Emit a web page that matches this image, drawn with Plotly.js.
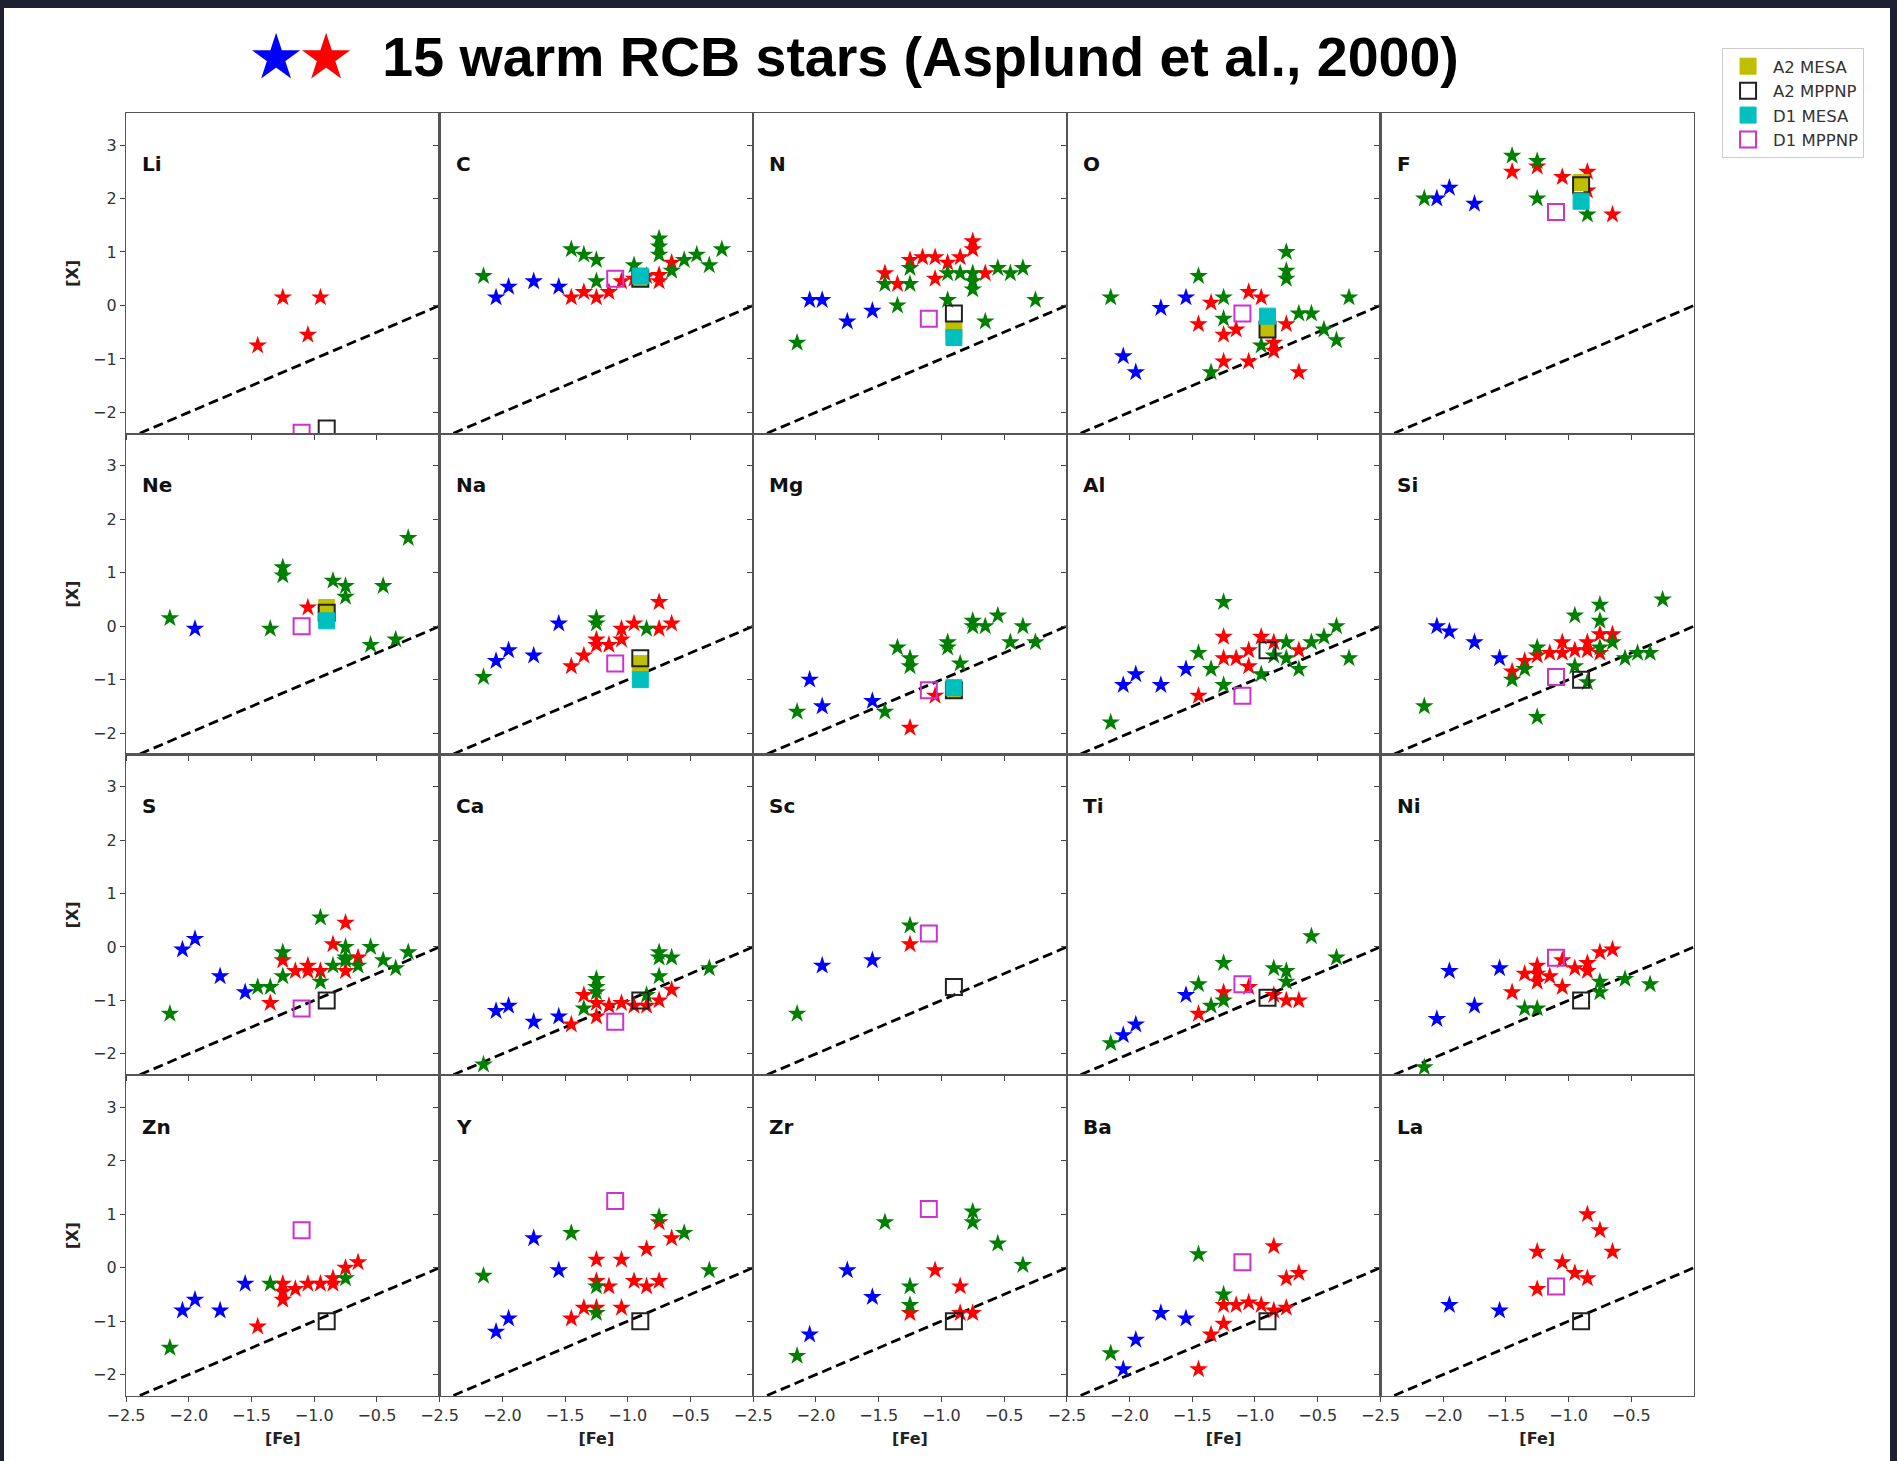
<!DOCTYPE html>
<html><head><meta charset="utf-8">
<script src="https://cdn.plot.ly/plotly-3.0.1.min.js"></script>
<style>
html,body{margin:0;padding:0;background:#1f2031;width:1897px;height:1461px;overflow:hidden}
#chart{position:absolute;left:4px;top:8px;width:1886px;height:1453px;background:#fff}
</style></head><body><div id="chart"></div>
<script>
const elements = ['Li','C','N','O','F','Ne','Na','Mg','Al','Si','S','Ca','Sc','Ti','Ni','Zn','Y','Zr','Ba','La'];
const feTicks = [-2.5, -2.0, -1.5, -1.0, -0.5];
const xTicks = [-2, -1, 0, 1, 2, 3];
const refLine = [-2.5, 0];

// [Fe], [X] pairs per panel (order of elements)
const blueStars = [
  [],
  [[-2.05,0.15],[-1.95,0.35],[-1.75,0.45],[-1.55,0.35]],
  [[-2.05,0.1],[-1.95,0.1],[-1.75,-0.3],[-1.55,-0.1]],
  [[-2.05,-0.95],[-1.95,-1.25],[-1.75,-0.05],[-1.55,0.15]],
  [[-2.05,2.0],[-1.95,2.2],[-1.75,1.9]],
  [[-1.95,-0.05]],
  [[-2.05,-0.65],[-1.95,-0.45],[-1.75,-0.55],[-1.55,0.05]],
  [[-2.05,-1.0],[-1.95,-1.5],[-1.55,-1.4]],
  [[-2.05,-1.1],[-1.95,-0.9],[-1.75,-1.1],[-1.55,-0.8]],
  [[-2.05,0.0],[-1.95,-0.1],[-1.75,-0.3],[-1.55,-0.6]],
  [[-2.05,-0.05],[-1.95,0.15],[-1.75,-0.55],[-1.55,-0.85]],
  [[-2.05,-1.2],[-1.95,-1.1],[-1.75,-1.4],[-1.55,-1.3]],
  [[-1.95,-0.35],[-1.55,-0.25]],
  [[-2.05,-1.65],[-1.95,-1.45],[-1.55,-0.9]],
  [[-2.05,-1.35],[-1.95,-0.45],[-1.75,-1.1],[-1.55,-0.4]],
  [[-2.05,-0.8],[-1.95,-0.6],[-1.75,-0.8],[-1.55,-0.3]],
  [[-2.05,-1.2],[-1.95,-0.95],[-1.75,0.55],[-1.55,-0.05]],
  [[-2.05,-1.25],[-1.75,-0.05],[-1.55,-0.55]],
  [[-2.05,-1.9],[-1.95,-1.35],[-1.75,-0.85],[-1.55,-0.95]],
  [[-1.95,-0.7],[-1.55,-0.8]]
];
const redStars = [
  [[-1.25,0.15],[-0.95,0.15],[-1.05,-0.55],[-1.45,-0.75]],
  [[-1.45,0.15],[-1.35,0.25],[-1.25,0.15],[-1.15,0.25],[-1.05,0.45],[-0.95,0.5],[-0.85,0.55],[-0.75,0.45],[-0.75,0.57],[-0.65,0.8]],
  [[-1.45,0.6],[-1.35,0.4],[-1.25,0.85],[-1.15,0.9],[-1.05,0.9],[-1.05,0.5],[-0.95,0.8],[-0.85,0.9],[-0.75,1.05],[-0.75,1.2],[-0.65,0.6]],
  [[-1.45,-0.35],[-1.35,0.05],[-1.25,-0.55],[-1.15,-0.45],[-1.25,-1.05],[-1.05,0.25],[-1.05,-1.05],[-0.95,0.15],[-0.85,-0.7],[-0.85,-0.85],[-0.75,-0.35],[-0.65,-1.25]],
  [[-1.45,2.5],[-1.25,2.6],[-1.05,2.4],[-0.85,2.5],[-0.85,2.15],[-0.65,1.7]],
  [[-1.05,0.35]],
  [[-1.45,-0.75],[-1.35,-0.55],[-1.25,-0.25],[-1.25,-0.35],[-1.15,-0.35],[-1.05,-0.05],[-1.05,-0.25],[-0.95,0.05],[-0.75,0.45],[-0.75,-0.05],[-0.65,0.05]],
  [[-1.25,-1.9],[-1.05,-1.3]],
  [[-1.45,-1.3],[-1.25,-0.2],[-1.25,-0.6],[-1.15,-0.6],[-1.05,-0.45],[-1.05,-0.75],[-0.95,-0.2],[-0.85,-0.3],[-0.65,-0.45]],
  [[-1.45,-0.85],[-1.35,-0.65],[-1.25,-0.55],[-1.15,-0.5],[-1.05,-0.3],[-1.05,-0.5],[-0.95,-0.45],[-0.85,-0.3],[-0.85,-0.45],[-0.75,-0.15],[-0.65,-0.15],[-0.75,-0.5]],
  [[-1.35,-1.05],[-1.25,-0.25],[-1.15,-0.45],[-1.05,-0.35],[-1.05,-0.45],[-0.95,-0.45],[-0.85,0.05],[-0.75,0.45],[-0.75,-0.45],[-0.65,-0.2]],
  [[-1.45,-1.45],[-1.35,-0.9],[-1.25,-1.05],[-1.25,-1.3],[-1.15,-1.1],[-1.05,-1.05],[-0.95,-1.1],[-0.85,-1.1],[-0.75,-1.0],[-0.65,-0.8]],
  [[-1.25,0.05]],
  [[-1.45,-1.25],[-1.25,-0.85],[-1.05,-0.75],[-0.85,-0.9],[-0.75,-1.0],[-0.65,-1.0]],
  [[-1.45,-0.85],[-1.35,-0.5],[-1.25,-0.35],[-1.25,-0.5],[-1.25,-0.65],[-1.15,-0.55],[-1.05,-0.25],[-1.05,-0.75],[-0.95,-0.4],[-0.85,-0.3],[-0.85,-0.45],[-0.75,-0.1],[-0.65,-0.05]],
  [[-1.45,-1.1],[-1.25,-0.3],[-1.25,-0.45],[-1.25,-0.6],[-1.15,-0.4],[-1.05,-0.3],[-0.95,-0.3],[-0.85,-0.2],[-0.85,-0.3],[-0.75,0.0],[-0.65,0.1]],
  [[-1.45,-0.95],[-1.35,-0.75],[-1.25,0.15],[-1.25,-0.25],[-1.25,-0.75],[-1.15,-0.35],[-1.05,0.15],[-1.05,-0.75],[-0.95,-0.25],[-0.85,0.35],[-0.85,-0.35],[-0.75,-0.25],[-0.75,0.85],[-0.65,0.55]],
  [[-1.25,-0.85],[-1.05,-0.05],[-0.85,-0.35],[-0.85,-0.85],[-0.75,-0.85]],
  [[-1.45,-1.9],[-1.35,-1.25],[-1.25,-0.7],[-1.25,-1.05],[-1.15,-0.7],[-1.05,-0.65],[-0.95,-0.7],[-0.85,0.4],[-0.85,-0.8],[-0.75,-0.2],[-0.75,-0.75],[-0.65,-0.1]],
  [[-1.25,0.3],[-1.25,-0.4],[-1.05,0.1],[-0.95,-0.1],[-0.85,1.0],[-0.85,-0.2],[-0.75,0.7],[-0.65,0.3]]
];
const greenStars = [
  [],
  [[-2.15,0.55],[-1.45,1.05],[-1.35,0.95],[-1.25,0.85],[-1.25,0.45],[-0.95,0.75],[-0.75,1.25],[-0.75,1.1],[-0.75,0.95],[-0.65,0.65],[-0.55,0.85],[-0.45,0.95],[-0.35,0.75],[-0.25,1.05]],
  [[-2.15,-0.7],[-1.45,0.4],[-1.35,0.0],[-1.25,0.7],[-1.25,0.4],[-0.95,0.6],[-0.95,0.1],[-0.85,0.6],[-0.75,0.6],[-0.75,0.45],[-0.75,0.3],[-0.65,-0.3],[-0.55,0.7],[-0.45,0.6],[-0.35,0.7],[-0.25,0.1]],
  [[-2.15,0.15],[-1.45,0.55],[-1.35,-1.25],[-1.25,0.15],[-1.25,-0.25],[-0.95,-0.75],[-0.75,1.0],[-0.75,0.65],[-0.75,0.5],[-0.65,-0.15],[-0.55,-0.15],[-0.45,-0.45],[-0.35,-0.65],[-0.25,0.15]],
  [[-2.15,2.0],[-1.45,2.8],[-1.25,2.7],[-1.25,2.0],[-0.85,1.7]],
  [[-2.15,0.15],[-1.35,-0.05],[-1.25,1.1],[-1.25,0.95],[-0.85,0.85],[-0.75,0.75],[-0.75,0.55],[-0.55,-0.35],[-0.45,0.75],[-0.35,-0.25],[-0.25,1.65]],
  [[-2.15,-0.95],[-1.25,0.15],[-1.25,0.05],[-0.85,-0.05]],
  [[-2.15,-1.6],[-1.45,-1.6],[-1.35,-0.4],[-1.25,-0.6],[-1.25,-0.75],[-0.95,-0.3],[-0.95,-0.4],[-0.85,-0.7],[-0.75,0.1],[-0.75,0.0],[-0.65,0.0],[-0.55,0.2],[-0.45,-0.3],[-0.35,0.0],[-0.25,-0.3]],
  [[-2.15,-1.8],[-1.45,-0.5],[-1.35,-0.8],[-1.25,0.45],[-1.25,-1.1],[-0.95,-0.9],[-0.85,-0.55],[-0.75,-0.3],[-0.75,-0.6],[-0.65,-0.8],[-0.55,-0.3],[-0.45,-0.2],[-0.35,0.0],[-0.25,-0.6]],
  [[-2.15,-1.5],[-1.45,-1.0],[-1.35,-0.8],[-1.25,-0.4],[-1.25,-1.7],[-0.95,0.2],[-0.95,-0.75],[-0.85,-1.05],[-0.75,0.4],[-0.75,0.1],[-0.75,-0.4],[-0.65,-0.3],[-0.55,-0.6],[-0.45,-0.5],[-0.35,-0.5],[-0.25,0.5]],
  [[-2.15,-1.25],[-1.45,-0.75],[-1.35,-0.75],[-1.25,-0.1],[-1.25,-0.55],[-0.95,0.55],[-0.95,-0.65],[-0.85,-0.35],[-0.75,0.0],[-0.75,-0.2],[-0.75,-0.25],[-0.65,-0.35],[-0.55,0.0],[-0.45,-0.25],[-0.35,-0.4],[-0.25,-0.1]],
  [[-2.15,-2.2],[-1.35,-1.15],[-1.25,-0.6],[-1.25,-0.75],[-1.25,-0.85],[-0.85,-0.9],[-0.75,-0.1],[-0.75,-0.2],[-0.75,-0.55],[-0.65,-0.2],[-0.35,-0.4]],
  [[-2.15,-1.25],[-1.25,0.4]],
  [[-2.15,-1.8],[-1.45,-0.7],[-1.35,-1.1],[-1.25,-0.3],[-1.25,-1.0],[-0.85,-0.4],[-0.75,-0.45],[-0.75,-0.65],[-0.55,0.2],[-0.35,-0.2]],
  [[-2.15,-2.25],[-1.35,-1.15],[-1.25,-1.15],[-0.75,-0.65],[-0.75,-0.85],[-0.55,-0.6],[-0.35,-0.7]],
  [[-2.15,-1.5],[-1.35,-0.3],[-0.75,-0.2]],
  [[-2.15,-0.15],[-1.45,0.65],[-1.25,-0.35],[-1.25,-0.85],[-0.75,0.95],[-0.55,0.65],[-0.35,-0.05]],
  [[-2.15,-1.65],[-1.45,0.85],[-1.25,-0.35],[-1.25,-0.7],[-0.75,1.05],[-0.75,0.85],[-0.55,0.45],[-0.35,0.05]],
  [[-2.15,-1.6],[-1.45,0.25],[-1.25,-0.5]],
  []
];
// model predictions per panel ([Fe], [X]) or null
const a2Mesa = [null,[-0.9,0.5],[-0.9,-0.45],[-0.9,-0.45],[-0.9,2.3],[-0.9,0.35],[-0.9,-0.7],[-0.9,-1.2],null,null,null,null,null,null,null,null,null,null,null,null];
const a2Mppnp = [[-0.9,-2.3],[-0.9,0.5],[-0.9,-0.15],[-0.9,-0.45],[-0.9,2.25],[-0.9,0.25],[-0.9,-0.6],[-0.9,-1.2],[-0.9,-0.45],[-0.9,-1.0],[-0.9,-1.0],[-0.9,-1.0],[-0.9,-0.75],[-0.9,-0.95],[-0.9,-1.0],[-0.9,-1.0],[-0.9,-1.0],[-0.9,-1.0],[-0.9,-1.0],[-0.9,-1.0]];
const d1Mesa = [null,[-0.9,0.55],[-0.9,-0.6],[-0.9,-0.2],[-0.9,1.95],[-0.9,0.1],[-0.9,-1.0],[-0.9,-1.15],null,null,null,null,null,null,null,null,null,null,null,null];
const d1Mppnp = [[-1.1,-2.38],[-1.1,0.5],[-1.1,-0.25],[-1.1,-0.15],[-1.1,1.75],[-1.1,0.0],[-1.1,-0.7],[-1.1,-1.2],[-1.1,-1.3],[-1.1,-0.95],[-1.1,-1.15],[-1.1,-1.4],[-1.1,0.25],[-1.1,-0.7],[-1.1,-0.2],[-1.1,0.7],[-1.1,1.25],[-1.1,1.1],[-1.1,0.1],[-1.1,-0.35]];

const starSeries = [
  {pts: blueStars, color: '#0000ff'},
  {pts: redStars, color: '#ff0000'},
  {pts: greenStars, color: '#008000'}
];
const squareSeries = [
  {pts: a2Mesa, name: 'A2 MESA', symbol: 'square', color: '#bfbf00', rank: 1},
  {pts: a2Mppnp, name: 'A2 MPPNP', symbol: 'square-open', color: '#222222', rank: 2},
  {pts: d1Mesa, name: 'D1 MESA', symbol: 'square', color: '#00bfbf', rank: 3},
  {pts: d1Mppnp, name: 'D1 MPPNP', symbol: 'square-open', color: '#cc33cc', rank: 4}
];

const traces = [];
const annotations = [];
const layout = {
  width: 1886, height: 1453,
  margin: {l: 122, r: 196, t: 105, b: 65},
  paper_bgcolor: '#ffffff', plot_bgcolor: '#ffffff',
  font: {family: 'DejaVu Sans, sans-serif', color: '#333333', size: 16},
  showlegend: true,
  hovermode: false,
  title: {
    text: '<span style="color:#0000ff">★</span><span style="color:#ff0000">★</span>\u00a0\u00a015 warm RCB stars (Asplund et al., 2000)',
    font: {family: 'Liberation Sans, Arial, sans-serif', size: 55.5, weight: 'bold', color: '#000000'},
    x: 0.465, xref: 'paper', xanchor: 'center',
    y: 0.9663, yref: 'container', yanchor: 'middle'
  },
  legend: {
    x: 1.0179, y: 1.0507, xanchor: 'left', yanchor: 'top',
    bgcolor: '#ffffff', bordercolor: '#cccccc', borderwidth: 1,
    font: {family: 'DejaVu Sans, sans-serif', size: 16.5, color: '#333333'},
    itemwidth: 40, tracegroupgap: 0, traceorder: 'grouped'
  },
  annotations: annotations
};

elements.forEach((el, i) => {
  const row = Math.floor(i / 5), col = i % 5;
  const n = i === 0 ? '' : String(i + 1);
  const xa = 'x' + n, ya = 'y' + n;
  const axCommon = {
    showline: true, mirror: true, linecolor: '#555555', linewidth: 1.2,
    ticks: 'outside', ticklen: 5, tickwidth: 1, tickcolor: '#444444',
    showgrid: false, zeroline: false, fixedrange: true,
    tickfont: {family: 'DejaVu Sans, sans-serif', size: 16, color: '#333333'}
  };
  layout['xaxis' + n] = Object.assign({}, axCommon, {
    domain: [col / 5, (col + 1) / 5], range: [-2.5, 0], anchor: ya,
    tickmode: 'array', tickvals: feTicks, tickformat: '.1f',
    showticklabels: row === 3,
    title: row === 3 ? {text: '[Fe]', standoff: 8, font: {family: 'DejaVu Sans, sans-serif', size: 16, weight: 'bold', color: '#222222'}} : {text: ''}
  });
  layout['yaxis' + n] = Object.assign({}, axCommon, {
    domain: [1 - (row + 1) / 4, 1 - row / 4], range: [-2.4, 3.6], anchor: xa,
    tickmode: 'array', tickvals: xTicks,
    showticklabels: col === 0,
    title: col === 0 ? {text: '[X]', standoff: 10, font: {family: 'DejaVu Sans, sans-serif', size: 16, weight: 'bold', color: '#222222'}} : {text: ''}
  });

  traces.push({
    type: 'scatter', mode: 'lines', x: refLine, y: refLine, xaxis: xa, yaxis: ya,
    line: {color: '#000000', width: 2.8, dash: '10px,5px'}, showlegend: false, hoverinfo: 'skip'
  });
  starSeries.forEach(s => {
    const p = s.pts[i];
    if (!p || !p.length) return;
    traces.push({
      type: 'scatter', mode: 'markers', xaxis: xa, yaxis: ya,
      x: p.map(d => d[0]), y: p.map(d => d[1]),
      marker: {symbol: 'star', size: 14, color: s.color, line: {width: 0}},
      showlegend: false, hoverinfo: 'skip'
    });
  });
  squareSeries.forEach(s => {
    const p = s.pts[i];
    if (!p) return;
    const open = s.symbol === 'square-open';
    traces.push({
      type: 'scatter', mode: 'markers', xaxis: xa, yaxis: ya,
      x: [p[0]], y: [p[1]], name: s.name, legendgroup: s.name, legendrank: s.rank,
      marker: {symbol: s.symbol, size: 16, color: s.color, line: {width: open ? 2 : 1, color: s.color}},
      showlegend: i === 1, hoverinfo: 'skip'
    });
  });

  annotations.push({
    text: el, xref: xa + ' domain', yref: ya + ' domain', x: 0.045, y: 0.84,
    xanchor: 'left', yanchor: 'middle', showarrow: false,
    font: {family: 'DejaVu Sans, sans-serif', size: 20, weight: 'bold', color: '#111111'}
  });
});

Plotly.newPlot('chart', traces, layout, {staticPlot: true, displayModeBar: false});
</script>
</body></html>
